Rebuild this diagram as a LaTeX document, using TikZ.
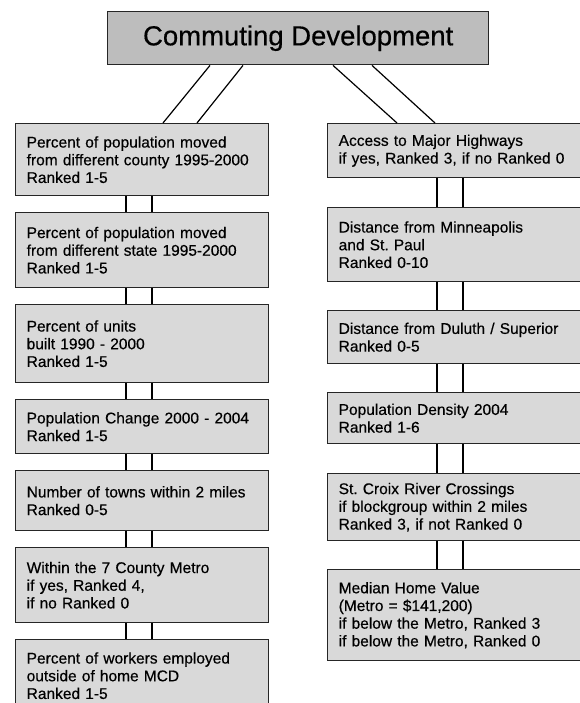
\documentclass[tikz,border=0pt]{standalone}
\usepackage{fontspec}
\setmainfont[FakeBold=0.4]{Liberation Sans}
\usetikzlibrary{calc}
\frenchspacing

\tikzset{
	box/.style={draw=black!85, line width=1.4pt, fill=gray!30, anchor=north west, align=left,
		inner xsep=11pt, inner ysep=0pt, font=\fontsize{15.5}{17.7}\selectfont},
	lbox/.style={box, text width=231pt, minimum width=253pt},
	rbox/.style={box, text width=236pt, minimum width=258pt},
	headbox/.style={draw=black!85, line width=1.4pt, fill=gray!52, anchor=north west,
		minimum width=381pt, minimum height=53pt, inner sep=0pt, font=\fontsize{27.5}{30}\selectfont},
	link/.style={line width=1.2pt},
}

\begin{document}
\begin{tikzpicture}[x=1pt,y=-1pt]
		\useasboundingbox (0,0) rectangle (580,703);
		\clip (0,0) rectangle (580,703);

		\node [headbox] (t) at (107,11) {Commuting Development};

		% left column
		\node [lbox, minimum height=72pt] (0) at (15,123) {Percent of population moved\\from different county 1995-2000\\Ranked 1-5};
		\node [lbox, minimum height=75pt] (1) at (15,212) {Percent of population moved\\from different state 1995-2000\\Ranked 1-5};
		\node [lbox, minimum height=78pt] (2) at (15,304) {Percent of units\\built 1990 - 2000\\Ranked 1-5};
		\node [lbox, minimum height=54pt] (3) at (15,399) {Population Change 2000 - 2004\\Ranked 1-5};
		\node [lbox, minimum height=60pt] (4) at (15,470) {Number of towns within 2 miles\\Ranked 0-5};
		\node [lbox, minimum height=75pt] (5) at (15,547) {Within the 7 County Metro\\if yes, Ranked 4,\\if no Ranked 0};
		\node [lbox, minimum height=72pt] (6) at (15,639) {Percent of workers employed\\outside of home MCD\\Ranked 1-5};

		% right column
		\node [rbox, minimum height=54pt] (7) at (327,123) {Access to Major Highways\\if yes, Ranked 3, if no Ranked 0};
		\node [rbox, minimum height=74pt] (8) at (327,207) {Distance from Minneapolis\\and St. Paul\\Ranked 0-10};
		\node [rbox, minimum height=53pt] (9) at (327,310) {Distance from Duluth / Superior\\Ranked 0-5};
		\node [rbox, minimum height=51pt] (10) at (327,392) {Population Density 2004\\Ranked 1-6};
		\node [rbox, minimum height=67pt] (11) at (327,473) {St. Croix River Crossings\\if blockgroup within 2 miles\\Ranked 3, if not Ranked 0};
		\node [rbox, minimum height=91pt] (12) at (327,569) {Median Home Value\\(Metro = \$141,200)\\if below the Metro, Ranked 3\\if below the Metro, Ranked 0};

		% from the title
		\draw [link] ($(t.south west)+(103,0)$) to ($(0.north west)+(148,0)$);
		\draw [link] ($(t.south west)+(136,0)$) to ($(0.north west)+(182,0)$);
		\draw [link] ($(t.south west)+(226,0)$) to ($(7.north west)+(70,0)$);
		\draw [link] ($(t.south west)+(265,0)$) to ($(7.north west)+(108,0)$);

		% double links, left
		\draw [link] ($(0.south west)+(111,0)$) to ($(1.north west)+(111,0)$);
		\draw [link] ($(0.south west)+(137,0)$) to ($(1.north west)+(137,0)$);
		\draw [link] ($(1.south west)+(111,0)$) to ($(2.north west)+(111,0)$);
		\draw [link] ($(1.south west)+(137,0)$) to ($(2.north west)+(137,0)$);
		\draw [link] ($(2.south west)+(111,0)$) to ($(3.north west)+(111,0)$);
		\draw [link] ($(2.south west)+(137,0)$) to ($(3.north west)+(137,0)$);
		\draw [link] ($(3.south west)+(111,0)$) to ($(4.north west)+(111,0)$);
		\draw [link] ($(3.south west)+(137,0)$) to ($(4.north west)+(137,0)$);
		\draw [link] ($(4.south west)+(111,0)$) to ($(5.north west)+(111,0)$);
		\draw [link] ($(4.south west)+(137,0)$) to ($(5.north west)+(137,0)$);
		\draw [link] ($(5.south west)+(111,0)$) to ($(6.north west)+(111,0)$);
		\draw [link] ($(5.south west)+(137,0)$) to ($(6.north west)+(137,0)$);

		% double links, right
		\draw [link] ($(7.south west)+(110,0)$) to ($(8.north west)+(110,0)$);
		\draw [link] ($(7.south west)+(136,0)$) to ($(8.north west)+(136,0)$);
		\draw [link] ($(8.south west)+(110,0)$) to ($(9.north west)+(110,0)$);
		\draw [link] ($(8.south west)+(136,0)$) to ($(9.north west)+(136,0)$);
		\draw [link] ($(9.south west)+(110,0)$) to ($(10.north west)+(110,0)$);
		\draw [link] ($(9.south west)+(136,0)$) to ($(10.north west)+(136,0)$);
		\draw [link] ($(10.south west)+(110,0)$) to ($(11.north west)+(110,0)$);
		\draw [link] ($(10.south west)+(136,0)$) to ($(11.north west)+(136,0)$);
		\draw [link] ($(11.south west)+(110,0)$) to ($(12.north west)+(110,0)$);
		\draw [link] ($(11.south west)+(136,0)$) to ($(12.north west)+(136,0)$);
\end{tikzpicture}
\end{document}
